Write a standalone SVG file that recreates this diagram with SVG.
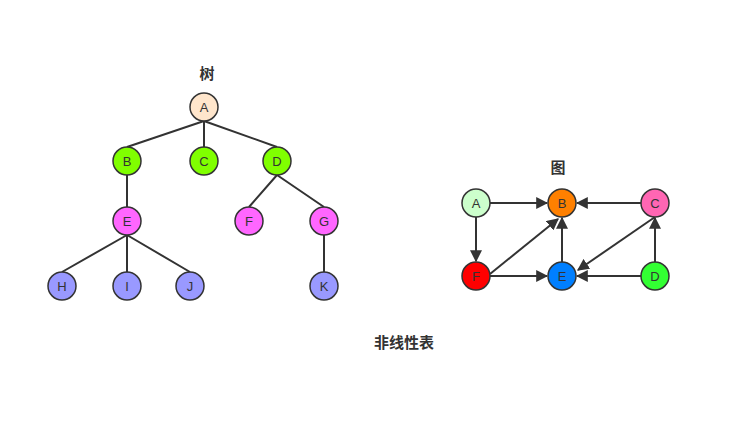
<svg xmlns="http://www.w3.org/2000/svg" width="731" height="428" viewBox="0 0 731 428">
<style>
.n{stroke:#333;stroke-width:1.5}
.t{font-family:"Liberation Sans","Noto Sans CJK SC",sans-serif;font-size:13px;fill:#333;text-anchor:middle;dominant-baseline:central}
.h{font-family:"Noto Sans CJK SC",sans-serif;font-size:15px;font-weight:bold;fill:#333;text-anchor:middle;dominant-baseline:central}
.e{stroke:#333;stroke-width:2;fill:none}
.a{stroke:#333;stroke-width:2;fill:none;marker-end:url(#m)}
</style>
<defs><marker id="m" viewBox="0 0 10 10" refX="9" refY="5" markerWidth="6" markerHeight="6" orient="auto" markerUnits="strokeWidth"><path d="M0,0L10,5L0,10z" fill="#333"/></marker></defs>
<rect width="731" height="428" fill="#fff"/>
<text class="h" x="207" y="72">树</text>
<text class="h" x="558" y="166">图</text>
<text class="h" x="404" y="341">非线性表</text>
<g id="connectors">
<path class="e" d="M204,121L127,147M204,121V147M204,121L277,147M127,175V207M277,175L249,207M277,175L324,207M127,235L62,272M127,235V272M127,235L190,272M324,235V272"/>
<path class="a" d="M490,203H547"/>
<path class="a" d="M641,203H577"/>
<path class="a" d="M476,217V261"/>
<path class="a" d="M490,276H547"/>
<path class="a" d="M490,274L558,219"/>
<path class="a" d="M562,262V218"/>
<path class="a" d="M641,276H577"/>
<path class="a" d="M655,217L578,270"/>
<path class="a" d="M655,262V218"/>
</g>
<g id="tA"><circle class="n" cx="204" cy="107" r="14" fill="#FFE6CC"/><text class="t" x="204" y="107">A</text></g>
<g id="tB"><circle class="n" cx="127" cy="161" r="14" fill="#80FF00"/><text class="t" x="127" y="161">B</text></g>
<g id="tC"><circle class="n" cx="204" cy="161" r="14" fill="#80FF00"/><text class="t" x="204" y="161">C</text></g>
<g id="tD"><circle class="n" cx="277" cy="161" r="14" fill="#80FF00"/><text class="t" x="277" y="161">D</text></g>
<g id="tE"><circle class="n" cx="127" cy="221" r="14" fill="#FF66FF"/><text class="t" x="127" y="221">E</text></g>
<g id="tF"><circle class="n" cx="249" cy="221" r="14" fill="#FF66FF"/><text class="t" x="249" y="221">F</text></g>
<g id="tG"><circle class="n" cx="324" cy="221" r="14" fill="#FF66FF"/><text class="t" x="324" y="221">G</text></g>
<g id="tH"><circle class="n" cx="62" cy="286" r="14" fill="#9999FF"/><text class="t" x="62" y="286">H</text></g>
<g id="tI"><circle class="n" cx="127" cy="286" r="14" fill="#9999FF"/><text class="t" x="127" y="286">I</text></g>
<g id="tJ"><circle class="n" cx="190" cy="286" r="14" fill="#9999FF"/><text class="t" x="190" y="286">J</text></g>
<g id="tK"><circle class="n" cx="324" cy="286" r="14" fill="#9999FF"/><text class="t" x="324" y="286">K</text></g>
<g id="gA"><circle class="n" cx="476" cy="203" r="14" fill="#CCFFCC"/><text class="t" x="476" y="203">A</text></g>
<g id="gB"><circle class="n" cx="562" cy="203" r="14" fill="#FF8000"/><text class="t" x="562" y="203">B</text></g>
<g id="gC"><circle class="n" cx="655" cy="203" r="14" fill="#FF66B3"/><text class="t" x="655" y="203">C</text></g>
<g id="gF"><circle class="n" cx="476" cy="276" r="14" fill="#FF0000"/><text class="t" x="476" y="276">F</text></g>
<g id="gE"><circle class="n" cx="562" cy="276" r="14" fill="#007FFF"/><text class="t" x="562" y="276">E</text></g>
<g id="gD"><circle class="n" cx="655" cy="276" r="14" fill="#33FF33"/><text class="t" x="655" y="276">D</text></g>
</svg>
